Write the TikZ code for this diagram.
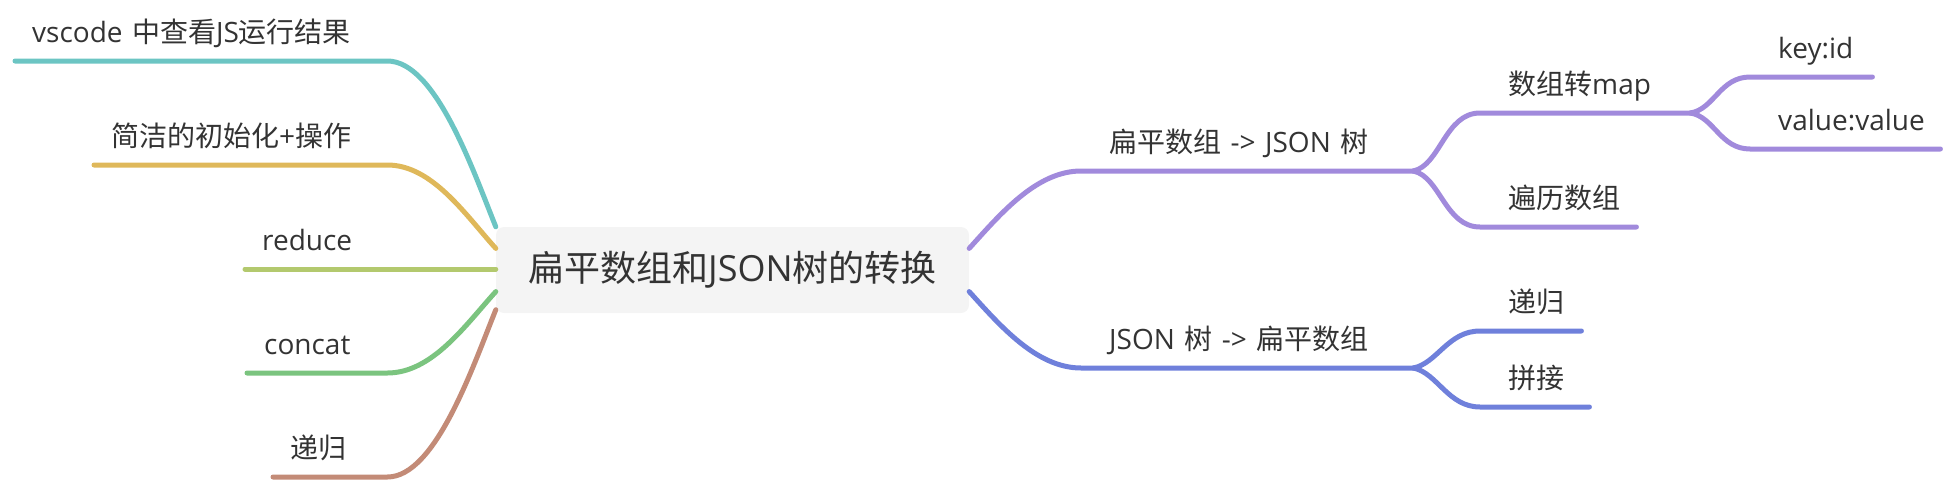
\documentclass[tikz,border=0pt]{standalone}
\usepackage{fontspec}
\setmainfont{Open Sans}[WordSpace=1.3]
\newfontfamily\cjk{Noto Sans CJK SC}
\usepackage{tikz}
\usetikzlibrary{calc}
\usepackage{xcolor}

\definecolor{txt}{HTML}{333333}
\definecolor{rootfill}{HTML}{F4F4F4}
\definecolor{cteal}{HTML}{6CC5C3}
\definecolor{cgold}{HTML}{DFB85A}
\definecolor{clime}{HTML}{B3C96E}
\definecolor{cgreen}{HTML}{7BC47F}
\definecolor{cbrown}{HTML}{C38B77}
\definecolor{cpurple}{HTML}{A18ADC}
\definecolor{cblue}{HTML}{6F80DB}
\newcommand\zh[1]{{\cjk #1}}

\begin{document}
\begin{tikzpicture}[x=1pt, y=-1pt,
  br/.style={line width=5pt, line cap=round},
  root/.style={fill=rootfill, rounded corners=8pt, minimum width=473pt,
               minimum height=86pt, inner sep=0pt, text=txt,
               font=\fontsize{36}{42}\selectfont},
  topic/.style={anchor=south west, align=flush left, inner ysep=0pt,
                text depth=18pt, text=txt, font=\fontsize{28}{34}\selectfont},
  ltopic/.style={topic, inner xsep=17pt},
  rtopic/.style={topic, inner xsep=28pt},
]
\useasboundingbox (0,0) rectangle (1956,482);

\node[root] (root) at (732.5,270) {\zh{扁平数组和}JSON\zh{树的转换}};

% left side
\node[ltopic, text width=338pt] (vscode) at (15,61)  {\mbox{vscode \zh{中查看}JS\zh{运行结果}}};
\node[ltopic, text width=259pt] (init)   at (94,165) {\zh{简洁的初始化}+\zh{操作}};
\node[ltopic, text width=108pt] (reduce) at (245,269) {reduce};
\node[ltopic, text width=106pt] (concat) at (247,373) {concat};
\node[ltopic, text width=80pt]  (recl)   at (273,477) {\zh{递归}};

% right side
\node[rtopic, text width=276pt] (flat) at (1081,171) {\mbox{\zh{扁平数组} -> JSON \zh{树}}};
\node[rtopic, text width=154pt] (map)  at (1480,113) {\zh{数组转}map};
\node[rtopic, text width=100pt] (loop) at (1480,227) {\zh{遍历数组}};
\node[rtopic, text width=66pt]  (key)  at (1750,77)  {key:id};
\node[rtopic, text width=134pt] (val)  at (1750,149) {value:value};
\node[rtopic, text width=276pt] (tree) at (1081,368) {\mbox{JSON \zh{树} -> \zh{扁平数组}}};
\node[rtopic, text width=45pt]  (recr) at (1480,331) {\zh{递归}};
\node[rtopic, text width=53pt]  (join) at (1480,407) {\zh{拼接}};

\draw[br, cteal]  (vscode.south west) -- (vscode.south east)
  .. controls +(48,0) and +(-23,-57) .. (root.north west);
\draw[br, cgold]  (init.south west) -- (init.south east)
  .. controls +(45,0) and +(-30,-33) .. ($(root.north west)!.25!(root.south west)$);
\draw[br, clime]  (reduce.south west) -- (reduce.south east) -- (reduce.south east -| root.west);
\draw[br, cgreen] (concat.south west) -- (concat.south east)
  .. controls +(45,0) and +(-30,33) .. ($(root.north west)!.75!(root.south west)$);
\draw[br, cbrown] (recl.south west) -- (recl.south east)
  .. controls +(48,0) and +(-23,57) .. ($(root.north west)!.96!(root.south west)$);

\draw[br, cpurple] ($(root.north east)!.25!(root.south east)$)
  .. controls +(30,-33) and +(-45,0) .. (flat.south west) -- (flat.south east);
\draw[br, cpurple] (flat.south east) .. controls +(27,-6) and +(-35,0) .. (map.south west) -- (map.south east);
\draw[br, cpurple] (flat.south east) .. controls +(27,6) and +(-35,0) .. (loop.south west) -- (loop.south east);
\draw[br, cpurple] (map.south east) .. controls +(24,-4) and +(-30,0) .. (key.south west) -- (key.south east);
\draw[br, cpurple] (map.south east) .. controls +(24,4) and +(-30,0) .. (val.south west) -- (val.south east);

\draw[br, cblue] ($(root.north east)!.75!(root.south east)$)
  .. controls +(30,33) and +(-45,0) .. (tree.south west) -- (tree.south east);
\draw[br, cblue] (tree.south east) .. controls +(24,-5) and +(-32,0) .. (recr.south west) -- (recr.south east);
\draw[br, cblue] (tree.south east) .. controls +(24,5) and +(-32,0) .. (join.south west) -- (join.south east);
\end{tikzpicture}
\end{document}
